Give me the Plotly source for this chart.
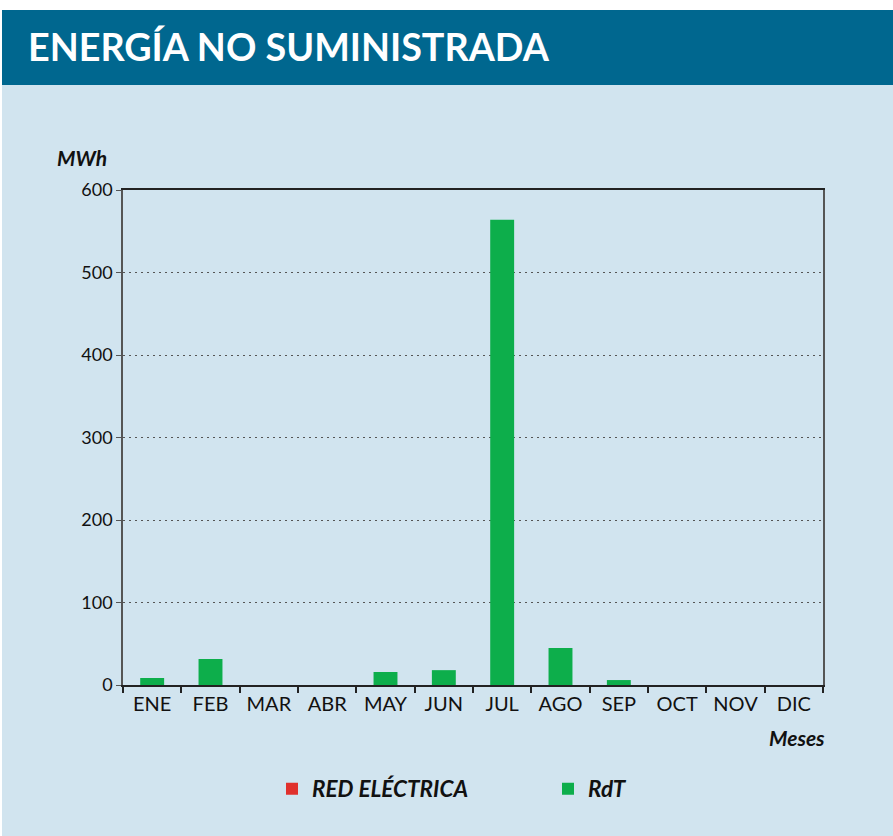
import plotly.graph_objects as go

months = ["ENE", "FEB", "MAR", "ABR", "MAY", "JUN", "JUL", "AGO", "SEP", "OCT", "NOV", "DIC"]
red_electrica = [0, 0, 0, 0, 0, 0, 0, 0, 0, 0, 0, 0]
rdt = [8.5, 31.5, 0, 0, 15.8, 18, 564, 45, 6, 0, 0, 0]
y_ticks = [0, 100, 200, 300, 400, 500, 600]

W, H = 893, 836
L, R, T, B = 123, 823, 190, 685

def px(x):
    return (x - L) / (R - L)

def py(y):
    return (B - y) / (B - T)

FONT = "Lato"
LEGFONT = dict(family=FONT, size=22.5, color="#111", weight="bold", style="italic")

fig = go.Figure()
fig.add_trace(go.Bar(x=months, y=red_electrica, name="RED ELÉCTRICA", legend="legend",
                     marker=dict(color="#E0302C", line=dict(width=0)), width=0.41))
fig.add_trace(go.Bar(x=months, y=rdt, name="RdT", legend="legend2",
                     marker=dict(color="#0DAE4B", line=dict(width=0)), width=0.41))

fig.update_layout(
    width=W, height=H,
    margin=dict(l=L, r=W - R, t=T, b=H - B, pad=0),
    paper_bgcolor="#D1E4EF",
    plot_bgcolor="rgba(0,0,0,0)",
    barmode="overlay",
    font=dict(family=FONT, size=18, color="#111"),
    showlegend=True,
    legend=dict(x=px(272), xanchor="left", y=py(789), yanchor="middle",
                font=LEGFONT, bgcolor="rgba(0,0,0,0)"),
    legend2=dict(x=px(548), xanchor="left", y=py(789), yanchor="middle",
                 font=LEGFONT, bgcolor="rgba(0,0,0,0)"),
    xaxis=dict(type="category", showline=True, linecolor="#222", linewidth=1.5,
               mirror=True, ticks="outside", tickson="boundaries", ticklen=6,
               tickcolor="#222", tickwidth=1.5, showgrid=False,
               tickfont=dict(family=FONT, size=20, color="#111")),
    yaxis=dict(range=[0, 600], tickvals=y_ticks, showline=True, linecolor="#555",
               linewidth=1.5, mirror=True, ticks="outside", ticklen=5, tickcolor="#555",
               showgrid=True, gridcolor="#555", griddash="2px,4px", gridwidth=1,
               zeroline=False, tickfont=dict(family=FONT, size=18, color="#111")),
    shapes=[
        dict(type="rect", xref="paper", yref="paper", x0=px(0), x1=px(W), y0=py(10), y1=py(0),
             fillcolor="white", line=dict(width=0)),
        dict(type="rect", xref="paper", yref="paper", x0=px(0), x1=px(2), y0=py(H), y1=py(0),
             fillcolor="white", line=dict(width=0)),
        dict(type="rect", xref="paper", yref="paper", x0=px(2), x1=px(W), y0=py(85), y1=py(10),
             fillcolor="#00678F", line=dict(width=0)),
    ],
    annotations=[
        dict(text="ENERGÍA NO SUMINISTRADA", xref="paper", yref="paper", x=px(26), y=py(47),
             xanchor="left", yanchor="middle", showarrow=False,
             font=dict(family=FONT, size=37.7, color="white", weight="bold")),
        dict(text="MWh", xref="paper", yref="paper", x=px(55), y=py(157),
             xanchor="left", yanchor="middle", showarrow=False,
             font=dict(family=FONT, size=21, color="#111", weight="bold", style="italic")),
        dict(text="Meses", xref="paper", yref="paper", x=px(827), y=py(737),
             xanchor="right", yanchor="middle", showarrow=False,
             font=dict(family=FONT, size=21, color="#111", weight="bold", style="italic")),
    ],
)

fig.write_html("out.html", config={"displayModeBar": False},
               post_script="document.body.style.margin='0';document.body.style.overflow='hidden';")
